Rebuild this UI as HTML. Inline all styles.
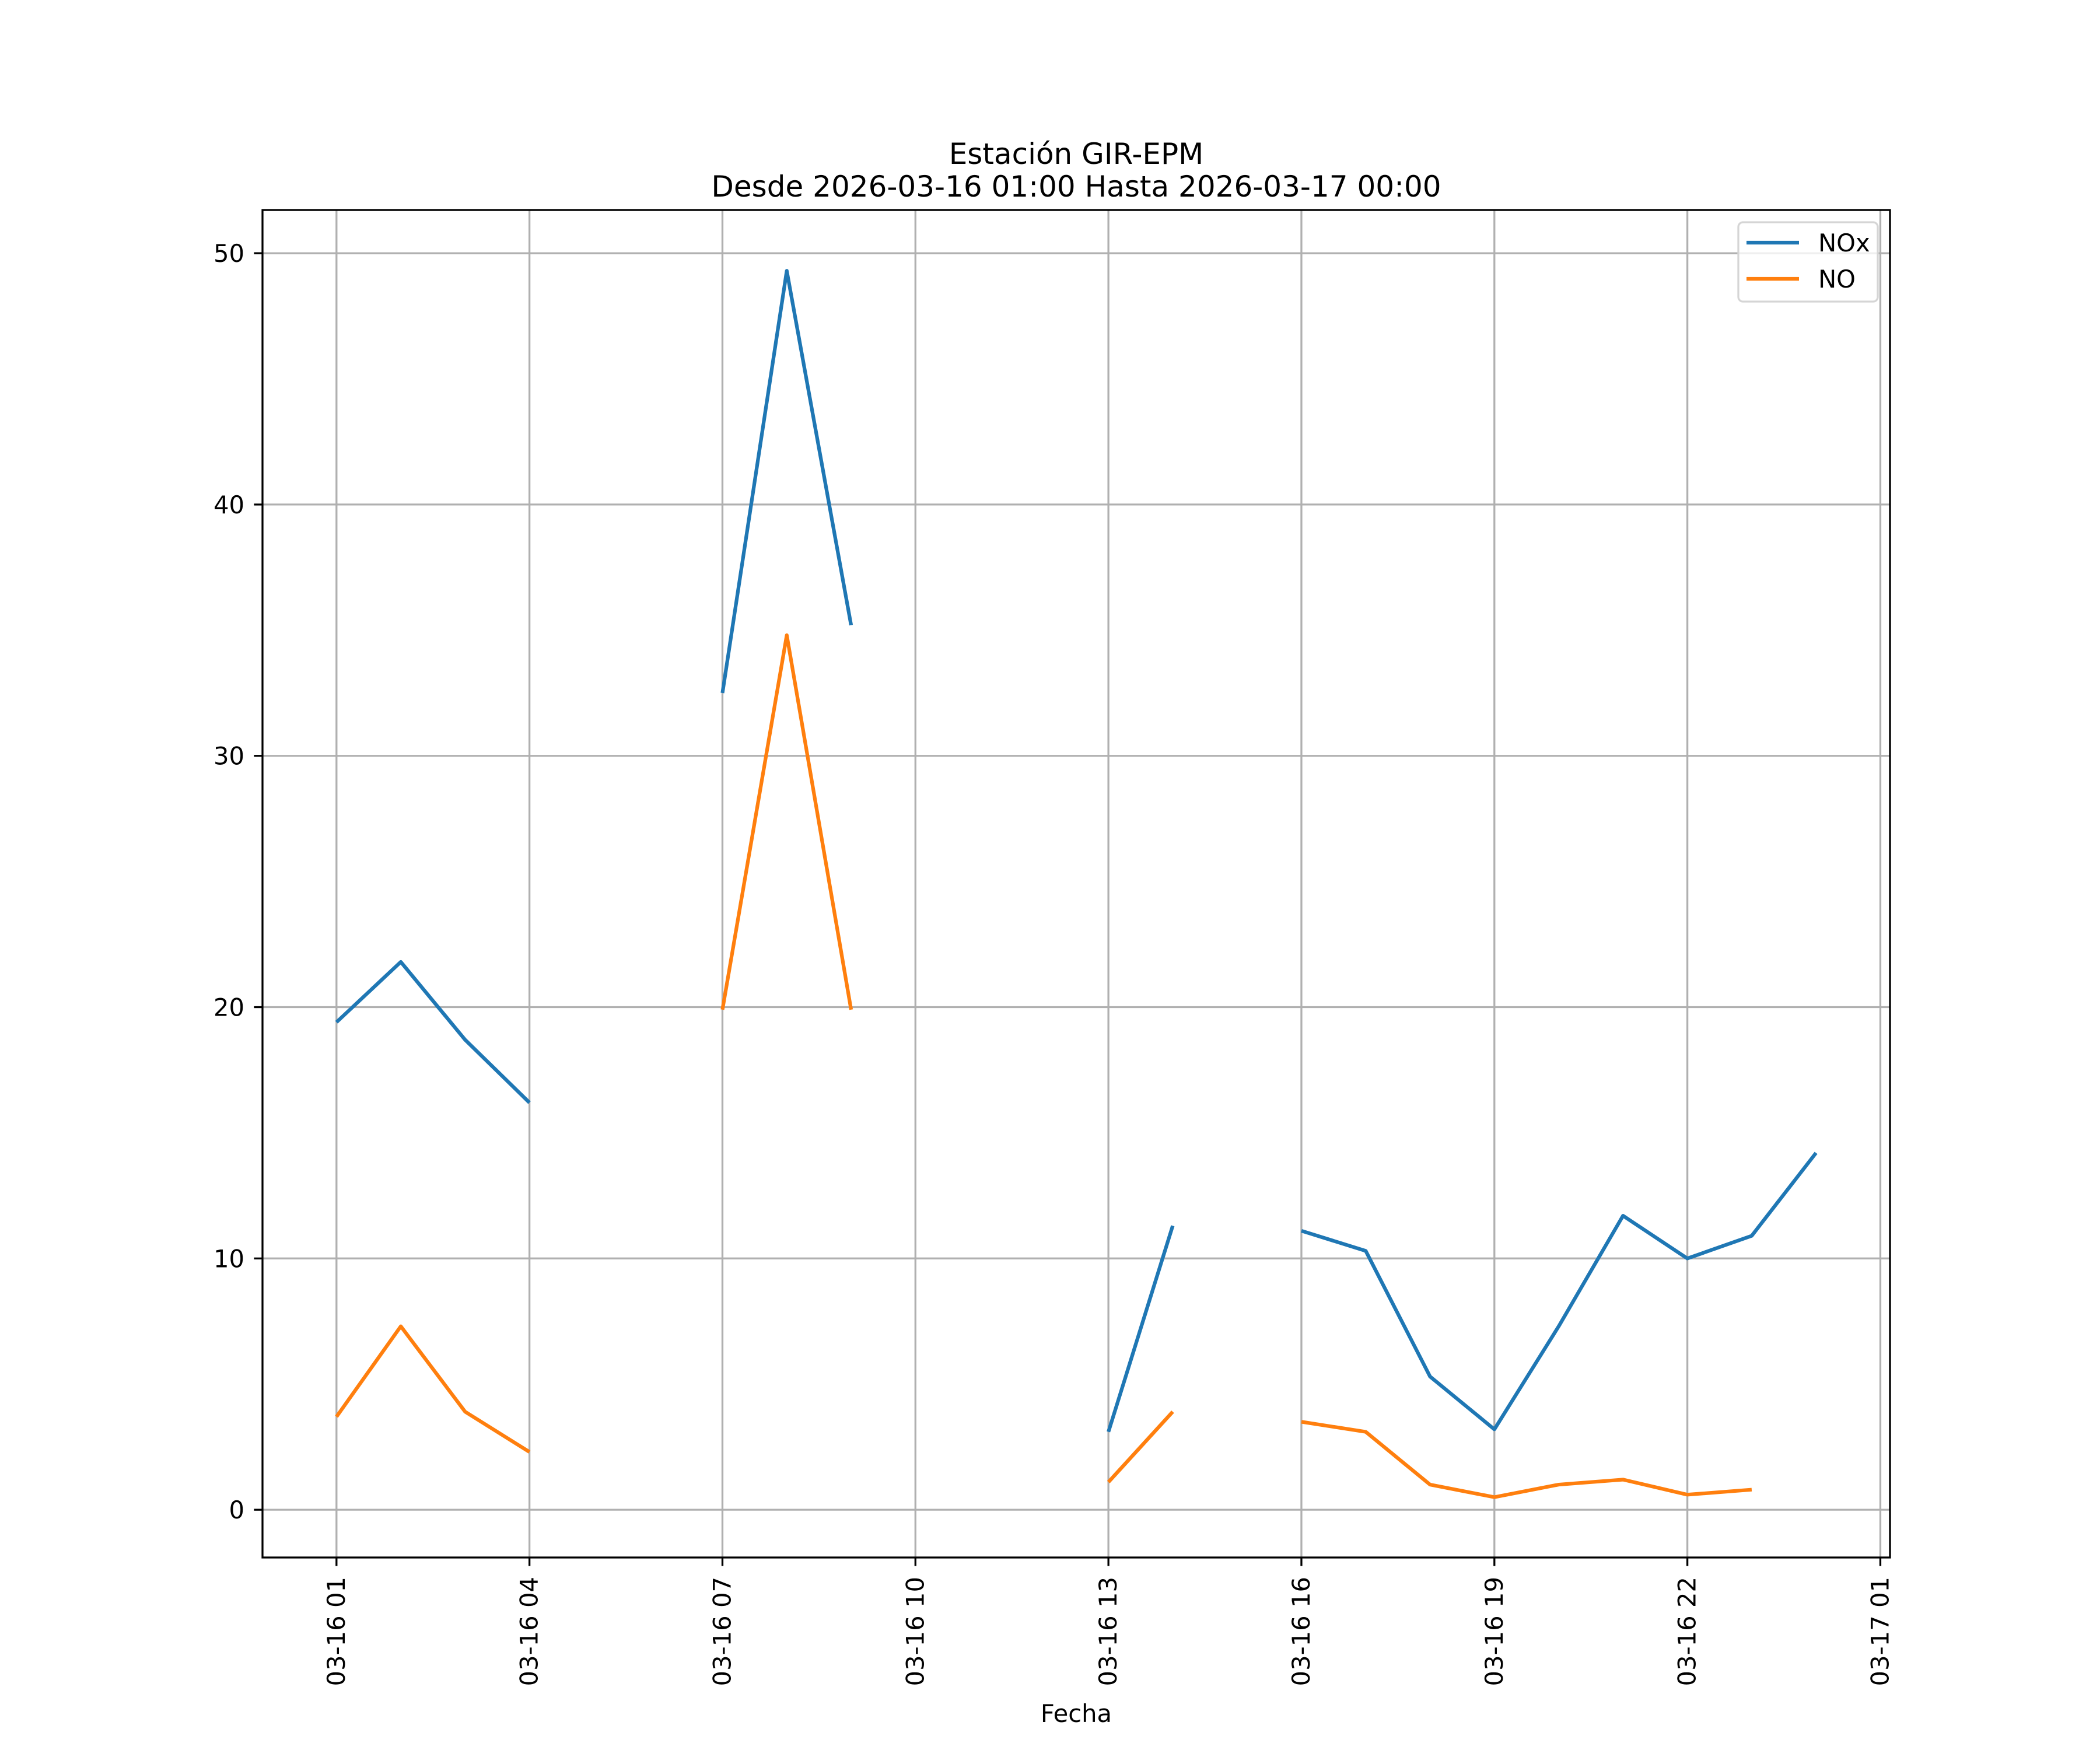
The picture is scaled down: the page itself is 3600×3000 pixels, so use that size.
<!DOCTYPE html>
<html><head><meta charset="utf-8"><style>
html,body{margin:0;padding:0;background:#fff}
svg{display:block}
text{font-family:"DejaVu Sans","Liberation Sans",sans-serif;fill:#000}
</style></head><body>
<svg id="chart" width="3600" height="3000" viewBox="0 0 3600 3000" xmlns="http://www.w3.org/2000/svg">
<rect width="3600" height="3000" fill="#fff"/>
<g id="grid"></g>
<g id="series"></g>
<rect x="450" y="360" width="2790" height="2310" fill="none" stroke="#000" stroke-width="3.3"/>
<g id="ticks"></g>
<text x="1845" y="281" font-size="50" text-anchor="middle">Estación GIR-EPM</text>
<text x="1845" y="337" font-size="50" text-anchor="middle">Desde 2026-03-16 01:00 Hasta 2026-03-17 00:00</text>
<text x="1845" y="2952" font-size="41.7" text-anchor="middle">Fecha</text>
<g>
<rect x="2980" y="381" width="239" height="136" rx="8" fill="#fff" fill-opacity="0.8" stroke="#d5d5d5" stroke-width="3.3"/>
<line x1="2994" y1="416" x2="3084" y2="416" stroke="#1f77b4" stroke-width="6.25"/>
<text x="3117" y="431" font-size="41.7">NOx</text>
<line x1="2994" y1="478" x2="3084" y2="478" stroke="#ff7f0e" stroke-width="6.25"/>
<text x="3117" y="493" font-size="41.7">NO</text>
</g>
</svg>
<script>
const hours = [0,1,2,3,4,5,6,7,8,9,10,11,12,13,14,15,16,17,18,19,20,21,22,23];
const noxValues = [19.4,21.8,18.7,16.2,null,null,32.5,49.3,35.2,null,null,null,3.1,11.3,null,11.1,10.3,5.3,3.2,7.3,11.7,10.0,10.9,14.2];
const noValues = [3.7,7.3,3.9,2.3,null,null,19.9,34.8,19.9,null,null,null,1.1,3.9,null,3.5,3.1,1.0,0.5,1.0,1.2,0.6,0.8,null];
const xTickHours = [0,3,6,9,12,15,18,21,24];
const xTickLabels = ["03-16 01","03-16 04","03-16 07","03-16 10","03-16 13","03-16 16","03-16 19","03-16 22","03-17 01"];
const yTicks = [0,10,20,30,40,50];

const NS="http://www.w3.org/2000/svg";
const L=450,R=3240,T=360,B=2670;
const xmin=-1.15,xmax=24.15,ymin=-1.9,ymax=51.72;
const xs=h=>L+(h-xmin)/(xmax-xmin)*(R-L);
const ys=v=>B-(v-ymin)/(ymax-ymin)*(B-T);
function mk(tag,attrs,parent){const e=document.createElementNS(NS,tag);for(const k in attrs)e.setAttribute(k,attrs[k]);parent.appendChild(e);return e;}
const grid=document.getElementById('grid'),ticks=document.getElementById('ticks'),series=document.getElementById('series');
xTickHours.forEach((h,i)=>{
  const x=xs(h);
  const g=mk('line',{x1:x,y1:T,x2:x,y2:B,stroke:'#b0b0b0','stroke-width':3.3},grid);
  
  
  const t=mk('line',{x1:x,y1:B,x2:x,y2:B+14.6,stroke:'#000','stroke-width':3.3},ticks);
  
  
  const tx=mk('text',{x:0,y:0,'font-size':41.7,'text-anchor':'end',transform:`translate(${x+14},2703) rotate(-90)`},ticks);
  tx.textContent=xTickLabels[i];
  
  
});
yTicks.forEach(v=>{
  const y=ys(v);
  const g=mk('line',{x1:L,y1:y,x2:R,y2:y,stroke:'#b0b0b0','stroke-width':3.3},grid);
  
  
  const t=mk('line',{x1:L-14.6,y1:y,x2:L,y2:y,stroke:'#000','stroke-width':3.3},ticks);
  
  
  const tx=mk('text',{x:419,y:y+15,'font-size':41.7,'text-anchor':'end'},ticks);
  tx.textContent=String(v);
  
  
});
function drawSeries(vals,color,name){
  let seg=[];
  const flush=()=>{ if(seg.length>1){
      const p=mk('polyline',{points:seg.join(' '),fill:'none',stroke:color,'stroke-width':6.25,'stroke-linejoin':'round','stroke-linecap':'butt'},series);
      
      
    } seg=[]; };
  vals.forEach((v,i)=>{ if(v===null) flush(); else seg.push(xs(hours[i])+','+ys(v)); });
  flush();
}
drawSeries(noxValues,'#1f77b4','nox');
drawSeries(noValues,'#ff7f0e','no');
</script>
</body></html>
